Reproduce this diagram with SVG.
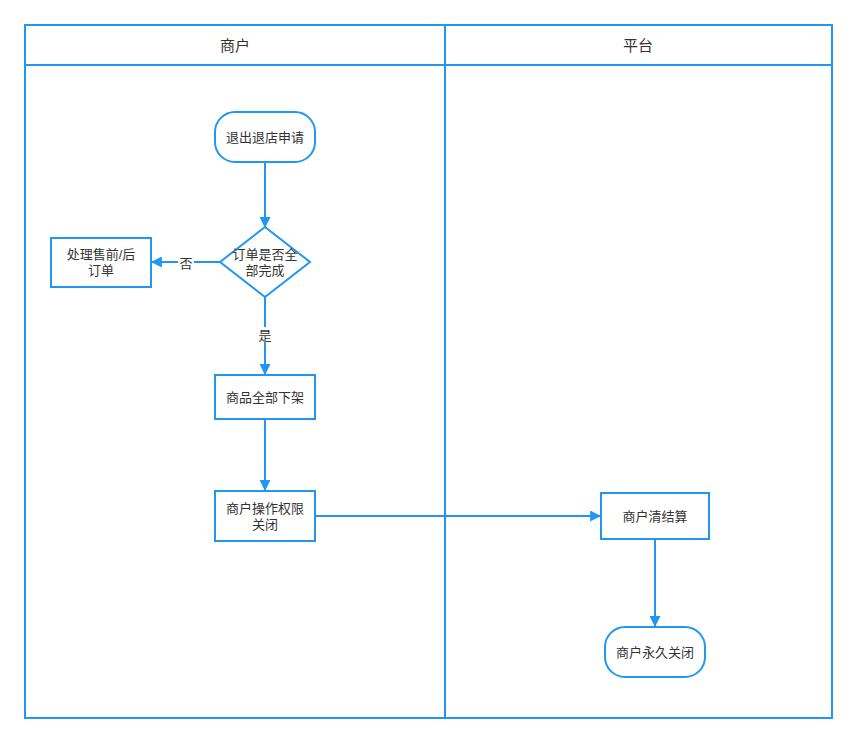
<svg xmlns="http://www.w3.org/2000/svg" width="857" height="744" viewBox="0 0 857 744">
<style>
.s{fill:#fff;stroke:#2196F3;stroke-width:2}
.ln{fill:none;stroke:#2196F3;stroke-width:2}
text{font-family:"Liberation Sans","Noto Sans CJK SC",sans-serif;font-size:13px;fill:#333;text-anchor:middle;dominant-baseline:central}
.h{font-size:15px}
</style>
<defs>
<marker id="a" viewBox="0 0 10 10" refX="9" refY="5" markerWidth="5.5" markerHeight="5.5" orient="auto" markerUnits="strokeWidth">
<path d="M0,0L10,5L0,10z" fill="#2196F3"/>
</marker>
</defs>
<rect width="857" height="744" fill="#fff"/>
<g id="lanes">
<rect x="25" y="25" width="807" height="693" fill="none" stroke="#2196F3" stroke-width="2"/>
<line x1="25" y1="65" x2="832" y2="65" class="ln"/>
<line x1="445" y1="25" x2="445" y2="718" class="ln"/>
<text x="235" y="45" class="h">商户</text>
<text x="638" y="45" class="h">平台</text>
</g>
<g id="connectors">
<line x1="265" y1="162" x2="265" y2="227" class="ln" marker-end="url(#a)"/>
<line x1="220" y1="262" x2="152" y2="262" class="ln" marker-end="url(#a)"/>
<rect x="178" y="255" width="16" height="15" fill="#fff"/>
<text x="186" y="263">否</text>
<line x1="265" y1="297" x2="265" y2="374" class="ln" marker-end="url(#a)"/>
<rect x="257" y="327" width="16" height="15" fill="#fff"/>
<text x="265" y="335">是</text>
<line x1="265" y1="419" x2="265" y2="490" class="ln" marker-end="url(#a)"/>
<line x1="315" y1="516" x2="600" y2="516" class="ln" marker-end="url(#a)"/>
<line x1="655" y1="539" x2="655" y2="626" class="ln" marker-end="url(#a)"/>
</g>
<g id="n1"><rect x="215" y="112" width="100" height="50" rx="20" class="s"/><text x="265" y="137">退出退店申请</text></g>
<g id="n2"><polygon points="265,227 310,262 265,297 220,262" class="s"/><text x="265" y="254">订单是否全</text><text x="265" y="270">部完成</text></g>
<g id="n3"><rect x="51" y="238" width="100" height="49" class="s"/><text x="101" y="254">处理售前/后</text><text x="101" y="270">订单</text></g>
<g id="n4"><rect x="215" y="375" width="100" height="44" class="s"/><text x="265" y="397">商品全部下架</text></g>
<g id="n5"><rect x="215" y="491" width="100" height="50" class="s"/><text x="265" y="508">商户操作权限</text><text x="265" y="524">关闭</text></g>
<g id="n6"><rect x="601" y="493" width="108" height="46" class="s"/><text x="655" y="516">商户清结算</text></g>
<g id="n7"><rect x="605" y="627" width="100" height="50" rx="20" class="s"/><text x="655" y="652">商户永久关闭</text></g>
</svg>
